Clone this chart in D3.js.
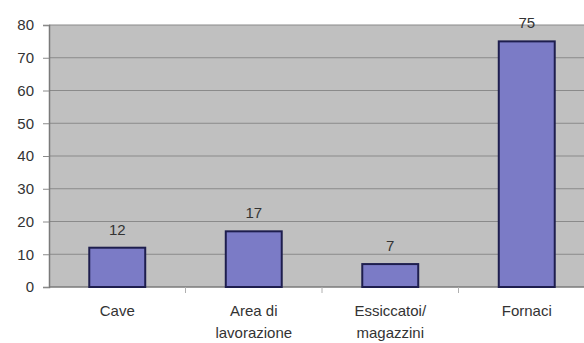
<!DOCTYPE html>
<html><head><meta charset="utf-8">
<script src="https://cdn.jsdelivr.net/npm/d3@7"></script>
<style>body{margin:0;background:#fff}svg{display:block}</style>
</head><body>
<script>
const categories = [["Cave"], ["Area di", "lavorazione"], ["Essiccatoi/", "magazzini"], ["Fornaci"]];
const values = [12, 17, 7, 75];
const yTicks = [0, 10, 20, 30, 40, 50, 60, 70, 80];

(function() {
const W = 584, H = 343;
const mLeft = 49, mRight = 595, mTop = 25, mBottom = 287;
const svg = d3.select("body").append("svg").attr("width", W).attr("height", H);
const font = "Liberation Sans, Arial, sans-serif";

const x = d3.scaleBand().domain(d3.range(categories.length)).range([mLeft, mRight])
  .paddingInner(0.59).paddingOuter(0.295);
const y = d3.scaleLinear().domain([0, 80]).range([mBottom, mTop]);

svg.append("rect").attr("x", mLeft).attr("y", mTop).attr("width", mRight - mLeft).attr("height", mBottom - mTop)
  .attr("fill", "#c0c0c0");

// gridlines
svg.append("g").selectAll("line").data(yTicks.filter(d => d > 0)).join("line")
  .attr("x1", mLeft).attr("x2", mRight).attr("y1", d => y(d)).attr("y2", d => y(d))
  .attr("stroke", "#8a8a8a").attr("stroke-width", 1.2);

// y axis
const yAxis = svg.append("g").attr("transform", `translate(${mLeft},0)`)
  .call(d3.axisLeft(y).tickValues(yTicks).tickSize(6).tickPadding(9));
yAxis.select(".domain").attr("stroke", "#7a7a7a").attr("stroke-width", 1.5);
yAxis.selectAll(".tick line").attr("stroke", "#8a8a8a");
yAxis.selectAll("text").attr("font-family", font).attr("font-size", 15).attr("fill", "#333");

// x axis line
svg.append("line").attr("x1", mLeft).attr("x2", mRight).attr("y1", mBottom).attr("y2", mBottom)
  .attr("stroke", "#7a7a7a").attr("stroke-width", 1.5);
// category separator ticks
const step = x.step();
svg.append("g").selectAll("line").data(d3.range(1, categories.length)).join("line")
  .attr("x1", i => mLeft + i * step).attr("x2", i => mLeft + i * step)
  .attr("y1", mBottom).attr("y2", mBottom + 6).attr("stroke", "#b0b0b0");

// bars
svg.append("g").selectAll("rect").data(values).join("rect")
  .attr("x", (d, i) => x(i)).attr("width", x.bandwidth())
  .attr("y", d => y(d)).attr("height", d => mBottom - y(d))
  .attr("fill", "#7b7bc6").attr("stroke", "#1e1e4e").attr("stroke-width", 2);

// value labels
svg.append("g").selectAll("text").data(values).join("text")
  .attr("x", (d, i) => x(i) + x.bandwidth() / 2).attr("y", d => y(d) - 13)
  .attr("text-anchor", "middle").attr("font-family", font).attr("font-size", 15).attr("fill", "#333")
  .text(d => d);

// category labels
const cl = svg.append("g").selectAll("text").data(categories).join("text")
  .attr("text-anchor", "middle").attr("font-family", font).attr("font-size", 15).attr("fill", "#333");
cl.each(function(lines, i) {
  d3.select(this).selectAll("tspan").data(lines).join("tspan")
    .attr("x", x(i) + x.bandwidth() / 2).attr("y", (l, j) => 316 + j * 22).text(l => l);
});
})();
</script>
</body></html>
